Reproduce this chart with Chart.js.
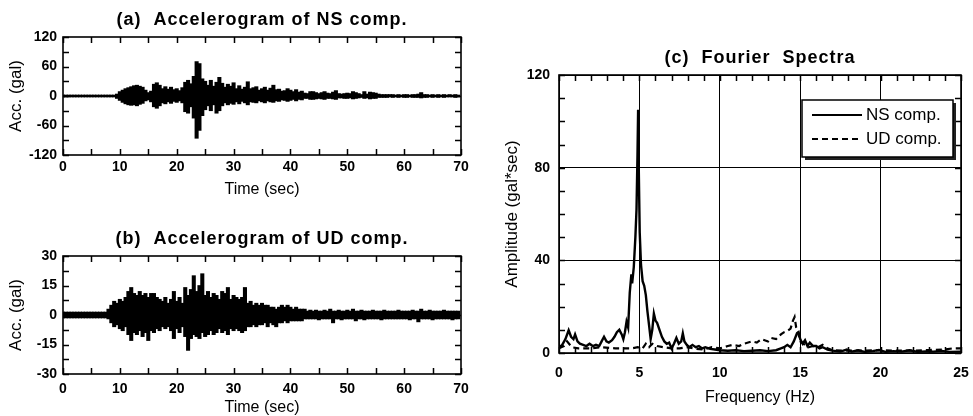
<!DOCTYPE html>
<html>
<head>
<meta charset="utf-8">
<script src="https://cdn.jsdelivr.net/npm/chart.js@4.4.0/dist/chart.umd.min.js"></script>
<style>
  body { margin: 0; background: #fff; }
  .wrap { position: relative; width: 973px; height: 416px; overflow: hidden; }
  canvas { position: absolute; }
  #nsChart { left: 0; top: 0; }
  #udChart { left: 0; top: 200px; }
  #fourierChart { left: 480px; top: 0; }
</style>
</head>
<body>
<div class="wrap">
  <canvas id="nsChart" width="470" height="200"></canvas>
  <canvas id="udChart" width="470" height="218"></canvas>
  <canvas id="fourierChart" width="493" height="416"></canvas>
</div>
<script>
// sampling step of the envelope readings (sec)
const dt = 0.5;

// NS accelerogram envelope, gal (upper / lower), every 0.5 sec from 0 to 69.5
const nsHigh = [
  2, 2, 2, 2, 2, 2, 2, 2, 2, 2, 2, 2, 2, 2, 2, 2, 2, 2, 2, 4,
  9, 12, 15, 17, 19, 21, 22, 20, 18, 12, 7, 10, 24, 27, 22, 15, 19, 14, 18, 13,
  15, 11, 17, 28, 32, 25, 40, 70, 66, 35, 30, 22, 32, 20, 28, 38, 26, 18, 24, 20,
  27, 15, 21, 14, 18, 29, 15, 17, 19, 12, 15, 18, 12, 16, 22, 13, 14, 10, 11, 15,
  12, 9, 13, 8, 10, 6, 5, 9, 9, 7, 5, 7, 9, 6, 5, 8, 11, 5, 4, 5,
  6, 5, 9, 7, 5, 3, 9, 4, 8, 7, 6, 4, 3, 3, 3, 3, 3, 2, 3, 2,
  3, 3, 2, 3, 3, 4, 7, 3, 3, 2, 3, 2, 3, 2, 3, 2, 3, 2, 3, 2
];
const nsLow = [
  -2, -2, -2, -2, -2, -2, -2, -2, -2, -2, -2, -2, -2, -2, -2, -2, -2, -2, -2, -5,
  -9, -13, -16, -18, -19, -18, -20, -17, -15, -10, -8, -12, -22, -25, -20, -14, -16, -12, -15, -11,
  -13, -10, -14, -32, -35, -22, -45, -86, -70, -40, -28, -20, -30, -18, -35, -30, -20, -14, -18, -15,
  -17, -12, -16, -11, -14, -18, -12, -13, -14, -10, -12, -14, -10, -12, -13, -10, -11, -8, -9, -11,
  -9, -7, -10, -7, -8, -5, -5, -7, -7, -6, -5, -6, -7, -5, -5, -6, -7, -4, -4, -5,
  -5, -4, -6, -5, -4, -3, -5, -4, -6, -5, -5, -3, -3, -3, -3, -2, -3, -2, -3, -2,
  -3, -3, -2, -3, -3, -3, -4, -3, -3, -2, -3, -2, -3, -2, -3, -2, -2, -2, -3, -2
];

// UD accelerogram envelope, gal (upper / lower)
const udHigh = [
  1.5, 1.5, 1.5, 1.5, 1.5, 1.5, 1.5, 1.5, 1.5, 1.5, 1.5, 1.5, 1.5, 1.5, 1.5, 1.5, 3, 5, 7, 6,
  8, 7, 9, 12, 14, 11, 10, 12, 10, 11, 9, 11, 11, 9, 8, 7, 9, 6, 8, 12,
  7, 9, 6, 14, 10, 13, 20, 12, 15, 21, 10, 12, 9, 11, 10, 8, 12, 11, 14, 8,
  10, 9, 8, 9, 14, 6, 7, 5, 6, 5, 6, 5, 5, 4, 4, 3, 4, 5, 4, 5,
  4, 3, 4, 3, 3, 3, 2, 2.5, 2, 2.5, 2, 2, 2.5, 2, 3, 2, 2, 2.5, 2, 2,
  2.5, 2, 3, 2, 2, 2.5, 2, 2, 2, 2.5, 2, 2, 2, 2.5, 2, 2, 2, 2, 2.5, 2,
  2, 2, 2, 2.5, 2, 2, 3, 2, 2, 2.5, 2, 2, 2, 2, 2.5, 2, 2, 2, 2, 2
];
const udLow = [
  -1.5, -1.5, -1.5, -1.5, -1.5, -1.5, -1.5, -1.5, -1.5, -1.5, -1.5, -1.5, -1.5, -1.5, -1.5, -1.5, -2, -4, -6, -5,
  -7, -8, -6, -10, -13, -9, -10, -8, -11, -9, -13, -8, -9, -7, -8, -6, -7, -6, -8, -12,
  -7, -9, -6, -11, -18, -12, -10, -11, -12, -9, -11, -10, -8, -10, -9, -7, -9, -8, -10, -7,
  -8, -7, -8, -9, -8, -6, -6, -5, -6, -5, -5, -4, -6, -4, -5, -6, -4, -4, -3, -4,
  -3, -3, -3, -3, -3, -2, -2, -2, -2, -2, -2.5, -2, -2, -2, -2, -4, -2, -2, -2.5, -2,
  -2, -2, -2, -3, -2, -2, -2.5, -2, -2, -2, -2, -2, -2.5, -2, -2, -2, -2, -2, -2, -2,
  -2, -2, -2.5, -2, -2, -3.5, -2, -2, -2, -2, -2.5, -2, -2, -2, -2, -2, -2, -2.5, -2, -2
];

// Fourier spectra, gal*sec
const nsFreq = [
  0, 0.2, 0.4, 0.6, 0.75, 0.9, 1.0, 1.15, 1.3, 1.5, 1.7, 1.9, 2.1, 2.3, 2.5, 2.65, 2.8, 2.95, 3.1, 3.3,
  3.45, 3.6, 3.75, 3.9, 4.0, 4.1, 4.2, 4.3, 4.4, 4.5, 4.55, 4.65, 4.75, 4.82, 4.88, 4.92, 4.96, 5.02, 5.1, 5.2,
  5.3, 5.4, 5.5, 5.6, 5.7, 5.8, 5.9, 6.0, 6.1, 6.25, 6.4, 6.55, 6.7, 6.85, 7.0, 7.15, 7.3, 7.45, 7.6, 7.7,
  7.8, 7.95, 8.1, 8.3, 8.5, 8.7, 8.9, 9.1, 9.4, 9.7, 10.0, 10.5, 11, 11.5, 12, 12.5, 13, 13.5, 13.8, 14.0,
  14.2, 14.4, 14.6, 14.8, 14.9, 15.0, 15.15, 15.3, 15.45, 15.6, 15.8, 16.0, 16.2, 16.4, 16.7, 17, 17.5, 17.9, 18.2, 18.6,
  19, 19.5, 19.9, 20.3, 20.8, 21.3, 21.8, 22.3, 22.8, 23.3, 23.8, 24.3, 25
];
const nsAmp = [
  2.5, 3.5, 6, 9.8, 7, 6, 8, 5, 4, 3.5, 3, 4, 3, 3.5, 3, 5, 7, 5, 4.5, 5.5,
  7, 9, 10, 8, 6, 9, 13.5, 11, 26, 34, 30, 37, 50, 62, 85, 105, 80, 52, 38, 31,
  29, 25, 18, 12, 6, 10, 17, 14, 13, 10, 7, 5, 4, 4.5, 2, 4, 6.5, 4, 5, 8.5,
  5, 3.5, 2.5, 3.5, 2.5, 3, 2, 2.5, 1.8, 1.5, 1.2, 1.0, 1.2, 0.8, 1.0, 1.2, 0.8, 1.2, 2, 2.5,
  3.5, 2.5, 5, 8.5, 9, 6, 4, 5.5, 3, 4.5, 3, 3, 2, 2.5, 1.5, 1, 0.6, 1.5, 0.6, 1.2,
  0.5, 0.8, 1.3, 0.5, 0.8, 0.6, 1.2, 0.5, 0.7, 0.6, 0.9, 0.5, 0.6
];
const udFreq = [
  0, 0.3, 0.5, 0.8, 1.2, 2, 2.6, 3.5, 4.5, 4.9, 5.2, 5.4, 5.6, 5.8, 6.1, 6.5, 7, 7.5, 8, 8.5,
  9, 9.5, 10, 10.5, 10.8, 11.2, 11.5, 12, 12.3, 12.6, 13, 13.2, 13.5, 13.8, 14, 14.2, 14.4, 14.55, 14.65, 14.75,
  14.9, 15.0, 15.2, 15.5, 15.8, 16.1, 16.4, 16.7, 17, 18, 19, 20, 21, 22, 23, 24, 24.5, 25
];
const udAmp = [
  2, 3, 5, 2.5, 2, 2, 2.5, 2, 2, 2.5, 2, 4, 2.5, 4, 3, 2.5, 2, 2, 2.5, 1.8,
  1.5, 2.5, 2, 3, 3.5, 3, 4, 5, 4.5, 6, 5, 6.5, 6, 8, 9, 9.5, 10.5, 14, 15.5, 11,
  8, 5, 4, 2.5, 3, 2.5, 3.5, 2, 1.2, 1, 1, 1.2, 1, 1, 1.3, 1.5, 2, 2
];

Chart.defaults.font.family = "'Liberation Sans', Arial, sans-serif";
Chart.defaults.color = "#000";
Chart.defaults.animation = false;

// title above plot, frame round the plot and inward tick marks on all four sides
const framePlugin = {
  id: "frame",
  afterDraw(chart, args, opts) {
    const ctx = chart.ctx;
    const a = chart.chartArea;
    const sx = chart.scales.x;
    const sy = chart.scales.y;
    ctx.save();
    ctx.strokeStyle = "#000";
    ctx.lineWidth = 1.6;
    ctx.strokeRect(a.left, a.top, a.right - a.left, a.bottom - a.top);
    ctx.lineWidth = 1.5;
    ctx.beginPath();
    for (let v = sx.min; v <= sx.max + 1e-9; v += opts.xStep) {
      const px = Math.round(sx.getPixelForValue(v)) + 0.5;
      ctx.moveTo(px, a.top);
      ctx.lineTo(px, a.top + opts.len);
      ctx.moveTo(px, a.bottom);
      ctx.lineTo(px, a.bottom - opts.len);
    }
    for (let v = sy.min; v <= sy.max + 1e-9; v += opts.yStep) {
      const py = Math.round(sy.getPixelForValue(v)) + 0.5;
      ctx.moveTo(a.left, py);
      ctx.lineTo(a.left + opts.len, py);
      ctx.moveTo(a.right, py);
      ctx.lineTo(a.right - opts.len, py);
    }
    ctx.stroke();

    ctx.font = "bold 18px 'Liberation Sans', Arial, sans-serif";
    ctx.letterSpacing = "1px";
    ctx.fillStyle = "#000";
    ctx.textAlign = "center";
    ctx.textBaseline = "middle";
    ctx.fillText(opts.title, (a.left + a.right) / 2, a.top - 17);
    ctx.restore();
  },
};

function fitX(h) {
  return (s) => { s.height = h; s.paddingLeft = 0; s.paddingRight = 0; };
}
function fitY(w) {
  return (s) => { s.width = w; s.paddingTop = 0; s.paddingBottom = 0; };
}

function accelChart(title, high, low, yMax, yStep, padTop, xHeight, xPad) {
  const points = high.map((h, i) => ({ x: i * dt, y: [low[i], h] }));
  return {
    type: "bar",
    data: {
      datasets: [
        {
          data: points,
          backgroundColor: "#000",
          borderWidth: 0,
          barThickness: 3.4,
        },
      ],
    },
    options: {
      responsive: false,
      layout: { padding: { top: padTop, right: 9, left: 0, bottom: 0 } },
      scales: {
        x: {
          type: "linear",
          min: 0,
          max: 70,
          offset: false,
          grid: { display: false, drawTicks: false },
          border: { display: false },
          ticks: { stepSize: 10, padding: xPad, font: { size: 14, weight: "bold" } },
          title: { display: true, text: "Time (sec)", font: { size: 16 }, padding: { top: 0, bottom: 1 } },
          afterFit: fitX(xHeight),
        },
        y: {
          min: -yMax,
          max: yMax,
          grid: { display: false, drawTicks: false },
          border: { display: false },
          ticks: { stepSize: yStep * 2, padding: 6, font: { size: 14, weight: "bold" } },
          title: { display: true, text: "Acc. (gal)", font: { size: 17 }, padding: { top: 6, bottom: 0 } },
          afterFit: fitY(63),
        },
      },
      plugins: {
        legend: { display: false },
        tooltip: { enabled: false },
        frame: { xStep: 5, yStep: yStep, len: 6, title: title },
      },
    },
    plugins: [framePlugin],
  };
}

new Chart(document.getElementById("nsChart"),
  accelChart("(a)  Accelerogram of NS comp.", nsHigh, nsLow, 120, 30, 37, 45, 4));
new Chart(document.getElementById("udChart"),
  accelChart("(b)  Accelerogram of UD comp.", udHigh, udLow, 30, 7.5, 56, 44, 7));

// legend box with drop shadow inside the spectra plot
const spectraLegend = {
  id: "spectraLegend",
  afterDraw(chart) {
    const ctx = chart.ctx;
    const a = chart.chartArea;
    const w = 151, h = 57;
    const x = a.right - 8 - w, y = a.top + 25;
    ctx.save();
    ctx.fillStyle = "#222";
    ctx.fillRect(x + 3, y + 3, w, h);
    ctx.fillStyle = "#fff";
    ctx.fillRect(x, y, w, h);
    ctx.strokeStyle = "#000";
    ctx.lineWidth = 1.5;
    ctx.strokeRect(x, y, w, h);
    chart.data.datasets.forEach((ds, i) => {
      const ly = y + 15 + i * 24;
      ctx.beginPath();
      ctx.setLineDash(ds.borderDash || []);
      ctx.lineWidth = 2;
      ctx.moveTo(x + 10, ly);
      ctx.lineTo(x + 60, ly);
      ctx.stroke();
      ctx.setLineDash([]);
      ctx.font = "17px 'Liberation Sans', Arial, sans-serif";
      ctx.fillStyle = "#000";
      ctx.textBaseline = "middle";
      ctx.fillText(ds.label, x + 64, ly);
    });
    ctx.restore();
  },
};

new Chart(document.getElementById("fourierChart"), {
  type: "line",
  data: {
    datasets: [
      {
        label: "NS comp.",
        data: nsFreq.map((f, i) => ({ x: f, y: nsAmp[i] })),
        borderColor: "#000",
        borderWidth: 2.4,
        pointRadius: 0,
        tension: 0,
      },
      {
        label: "UD comp.",
        data: udFreq.map((f, i) => ({ x: f, y: udAmp[i] })),
        borderColor: "#000",
        borderWidth: 2.2,
        borderDash: [6, 4],
        pointRadius: 0,
        tension: 0,
      },
    ],
  },
  options: {
    responsive: false,
    layout: { padding: { top: 75, right: 12, left: 0, bottom: 0 } },
    scales: {
      x: {
        type: "linear",
        min: 0,
        max: 25,
        grid: { color: "#000", lineWidth: 1, drawTicks: false },
        border: { display: false },
        ticks: { stepSize: 5, padding: 12, font: { size: 14, weight: "bold" } },
        title: { display: true, text: "Frequency (Hz)", font: { size: 16 }, padding: { top: 0, bottom: 9 } },
        afterFit: fitX(63),
      },
      y: {
        min: 0,
        max: 120,
        grid: { color: "#000", lineWidth: 1, drawTicks: false },
        border: { display: false },
        ticks: { stepSize: 40, padding: 9, font: { size: 14, weight: "bold" } },
        title: { display: true, text: "Amplitude (gal*sec)", font: { size: 17 }, padding: { top: 22, bottom: 0 } },
        afterFit: fitY(79),
      },
    },
    plugins: {
      legend: { display: false },
      tooltip: { enabled: false },
      frame: { xStep: 1, yStep: 10, len: 6, title: "(c)  Fourier  Spectra" },
    },
  },
  plugins: [framePlugin, spectraLegend],
});
</script>
</body>
</html>
